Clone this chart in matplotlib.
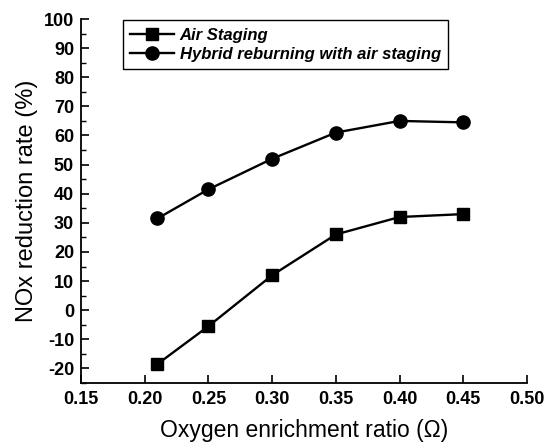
import matplotlib
matplotlib.use("Agg")
import matplotlib.pyplot as plt
from matplotlib.ticker import MultipleLocator

plt.rcParams['font.family'] = ['Liberation Sans', 'DejaVu Sans']
plt.rcParams['axes.unicode_minus'] = False

# Data
omega = [0.21, 0.25, 0.30, 0.35, 0.40, 0.45]
air_staging = [-18.5, -5.5, 12.0, 26.0, 32.0, 33.0]
hybrid = [31.5, 41.5, 52.0, 61.0, 65.0, 64.5]
xticks = [0.15, 0.20, 0.25, 0.30, 0.35, 0.40, 0.45, 0.50]
yticks = list(range(-20, 101, 10))

fig = plt.figure(figsize=(5.59, 4.44), dpi=100)
ax = fig.add_axes((0.1449, 0.1374, 0.7979, 0.8198))  # (left, bottom, width, height)

ax.plot(omega, air_staging, '-s', color='black', linewidth=1.7, markersize=8,
        label='Air Staging')
ax.plot(omega, hybrid, '-o', color='black', linewidth=1.7, markersize=9.5,
        label='Hybrid reburning with air staging')

ax.set_xlim(0.15, 0.50)
ax.set_ylim(-25, 100)
ax.set_xticks(xticks, labels=[f"{v:.2f}" for v in xticks])
ax.set_yticks(yticks, labels=[str(v) for v in yticks])
ax.yaxis.set_minor_locator(MultipleLocator(5))

for side in ('top', 'right'):
    ax.spines[side].set_visible(False)
for side in ('left', 'bottom'):
    ax.spines[side].set_linewidth(1.3)

ax.tick_params(which='major', direction='in', length=5.5, width=1.2, labelsize=13)
ax.tick_params(axis='x', which='major', pad=6)
ax.tick_params(axis='y', which='major', pad=5)
ax.tick_params(which='minor', direction='in', length=3.5, width=1.0)
for lbl in ax.get_xticklabels() + ax.get_yticklabels():
    lbl.set_fontweight('bold')

ax.set_xlabel('Oxygen enrichment ratio (Ω)', fontsize=16.5, labelpad=8)
ax.set_ylabel('NOx reduction rate (%)', fontsize=17, labelpad=4)

leg = ax.legend(loc='upper left', bbox_to_anchor=(0.094, 0.997), borderaxespad=0,
                fancybox=False, edgecolor='black', framealpha=1, handlelength=2.6,
                borderpad=0.45, labelspacing=0.25, handletextpad=0.35,
                prop={'weight': 'bold', 'style': 'italic', 'size': 12})
leg.get_frame().set_linewidth(1.0)

fig.savefig('out.png', dpi=100)
